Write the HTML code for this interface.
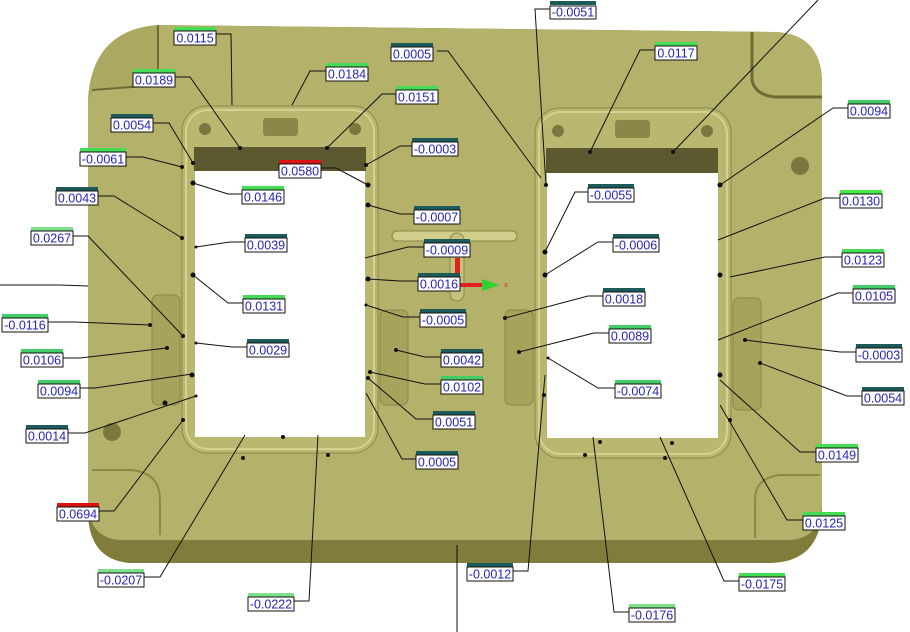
<!DOCTYPE html>
<html><head><meta charset="utf-8"><style>
html,body{margin:0;padding:0;background:#fff}
svg{display:block}
text{font-family:"Liberation Sans",sans-serif;font-size:12.5px;fill:#2424b8;text-anchor:middle}
</style></head><body>
<svg width="910" height="632" viewBox="0 0 910 632" xmlns="http://www.w3.org/2000/svg">
<!-- plate -->
<path d="M158,25 L775,32 Q820,34 822,80 L822,510 Q820,562 770,563 L130,563 Q90,560 88,515 L88,100 Q92,30 158,25 Z" fill="#7f7c3c"/>
<path d="M158,25 L775,32 Q820,34 822,80 L822,505 Q820,538 790,540 L120,540 Q90,538 88,505 L88,100 Q92,30 158,25 Z" fill="#b3b16a"/>
<path d="M88,100 Q92,30 158,25 L158,85 L95,88 Z" fill="#aaa861"/>
<path d="M158,25 L158,85 L92,90" fill="none" stroke="#6c6a35" stroke-width="2"/>
<path d="M752,32 L752,80 Q755,95 775,97 L822,97" fill="none" stroke="#6c6a35" stroke-width="3"/>
<path d="M92,470 L130,470 Q160,472 160,500 L160,535" fill="none" stroke="#8c8a4a" stroke-width="2"/>
<path d="M820,475 L780,475 Q755,478 755,500 L755,538" fill="none" stroke="#8c8a4a" stroke-width="2"/>
<!-- pockets -->
<rect x="152" y="295" width="28" height="110" rx="6" fill="#a5a35c" stroke="#8a8848"/>
<rect x="380" y="310" width="28" height="95" rx="6" fill="#a5a35c" stroke="#8a8848"/>
<rect x="505" y="310" width="28" height="95" rx="6" fill="#a5a35c" stroke="#8a8848"/>
<rect x="733" y="298" width="28" height="112" rx="6" fill="#a5a35c" stroke="#8a8848"/>
<circle cx="112" cy="432" r="9" fill="#7a7840"/>
<circle cx="800" cy="166" r="9" fill="#7a7840"/>
<!-- windows frames -->
<rect x="182" y="106" width="196" height="347" rx="25" fill="#bab870" stroke="#8a8848"/>
<rect x="535" y="108" width="196" height="350" rx="25" fill="#bab870" stroke="#8a8848"/>
<rect x="186" y="110" width="188" height="339" rx="22" fill="none" stroke="#d4d290" stroke-width="2"/>
<rect x="539" y="112" width="188" height="342" rx="22" fill="none" stroke="#d4d290" stroke-width="2"/>
<rect x="194" y="147" width="172" height="24" fill="#5c5830"/>
<rect x="546" y="148" width="172" height="25" fill="#5c5830"/>
<rect x="195" y="171" width="170" height="266" fill="#fff"/>
<rect x="547" y="173" width="171" height="265" fill="#fff"/>
<circle cx="205" cy="129" r="6" fill="#7a7840"/><circle cx="355" cy="129" r="6" fill="#7a7840"/>
<circle cx="558" cy="131" r="6" fill="#7a7840"/><circle cx="707" cy="131" r="6" fill="#7a7840"/>
<rect x="263" y="118" width="35" height="18" rx="3" fill="#8a8848"/>
<rect x="615" y="120" width="35" height="18" rx="3" fill="#8a8848"/>
<!-- T bar -->
<rect x="392" y="231" width="125" height="10" rx="5" fill="#d0ce8a" stroke="#8a8848"/>
<rect x="450" y="233" width="14" height="68" rx="7" fill="#c4c27a" stroke="#8a8848"/>
<rect x="455" y="258" width="5" height="27" fill="#e02020"/>
<rect x="460" y="283" width="25" height="4" fill="#e02020"/>
<polygon points="482,279 500,285 482,291" fill="#30d030"/>
<text x="506" y="287" style="font-size:7px;fill:#e03030">x</text>
<!-- dots -->
<g fill="#111">
<circle cx="240" cy="148" r="2"/><circle cx="327" cy="148" r="2"/><circle cx="193" cy="163" r="2"/><circle cx="182" cy="167" r="2"/><circle cx="193" cy="183" r="2.5"/><circle cx="182" cy="238" r="2"/><circle cx="196" cy="247" r="1.5"/><circle cx="193" cy="275" r="2.5"/><circle cx="150" cy="325" r="2"/><circle cx="167" cy="348" r="2"/><circle cx="183" cy="336" r="2"/><circle cx="196" cy="343" r="1.5"/><circle cx="192" cy="375" r="2.5"/><circle cx="165" cy="403" r="2.5"/><circle cx="196" cy="396" r="1.5"/><circle cx="183" cy="420" r="2"/>
<circle cx="368" cy="185" r="2.5"/><circle cx="368" cy="205" r="2.5"/><circle cx="366" cy="165" r="2"/><circle cx="368" cy="279" r="2.5"/><circle cx="396" cy="350" r="2"/><circle cx="370" cy="372" r="2"/><circle cx="368" cy="378" r="2"/><circle cx="366" cy="305" r="1.5"/>
<circle cx="243" cy="458" r="2"/><circle cx="328" cy="455" r="2"/><circle cx="283" cy="437" r="2"/>
<circle cx="590" cy="152" r="2"/><circle cx="673" cy="152" r="2"/><circle cx="546" cy="185" r="2"/><circle cx="545" cy="252" r="2.5"/><circle cx="545" cy="275" r="2.5"/><circle cx="505" cy="318" r="2"/><circle cx="519" cy="352" r="2"/><circle cx="548" cy="358" r="1.5"/><circle cx="544" cy="395" r="2"/>
<circle cx="720" cy="185" r="2.5"/><circle cx="720" cy="275" r="2.5"/><circle cx="745" cy="340" r="2"/><circle cx="760" cy="363" r="2"/><circle cx="720" cy="375" r="2.5"/><circle cx="730" cy="420" r="2"/>
<circle cx="600" cy="442" r="2"/><circle cx="672" cy="443" r="2"/><circle cx="585" cy="455" r="2"/><circle cx="665" cy="458" r="2"/>
</g>
<!-- leader lines -->
<g fill="none" stroke="#111" stroke-width="1">
<polyline points="216,34 231,34 232,105"/>
<polyline points="175,77 190,77 240,148"/>
<polyline points="326,71 310,71 292,105"/>
<polyline points="437,51 448,51 541,178"/>
<polyline points="396,94 382,94 327,148"/>
<polyline points="153,123 169,123 193,163"/>
<polyline points="126,157 143,157 182,167"/>
<polyline points="412,146 400,146 366,165"/>
<polyline points="320,168 336,168 368,185"/>
<polyline points="242,194 228,194 193,183"/>
<polyline points="414,214 400,214 368,205"/>
<polyline points="98,196 114,196 182,238"/>
<polyline points="245,242 230,242 196,247"/>
<polyline points="424,247 408,247 365,258"/>
<polyline points="73,236 88,236 183,336"/>
<polyline points="0,285 60,285 88,286"/>
<polyline points="418,281 400,281 368,279"/>
<polyline points="243,303 228,303 193,275"/>
<polyline points="420,317 403,317 366,305"/>
<polyline points="48,322 74,322 150,325"/>
<polyline points="247,347 232,347 196,343"/>
<polyline points="63,358 80,358 167,348"/>
<polyline points="441,357 425,357 396,350"/>
<polyline points="80,388 95,388 192,374"/>
<polyline points="441,384 425,384 370,372"/>
<polyline points="68,433 85,433 196,396"/>
<polyline points="433,419 416,419 368,378"/>
<polyline points="416,459 402,459 366,393"/>
<polyline points="99,511 114,511 183,420"/>
<polyline points="140,577 160,577 245,435"/>
<polyline points="290,601 309,601 318,435"/>
<polyline points="509,571 528,571 545,375"/>
<polyline points="550,9 535,9 546,185"/>
<polyline points="457,545 457,632"/>
<polyline points="629,612 614,612 593,437"/>
<polyline points="739,581 724,581 660,437"/>
<polyline points="803,520 787,520 720,405"/>
<polyline points="816,452 800,452 720,380"/>
<polyline points="862,396 847,396 760,363"/>
<polyline points="856,352 840,352 745,340"/>
<polyline points="853,293 838,293 718,340"/>
<polyline points="842,257 825,257 730,277"/>
<polyline points="840,198 825,198 718,240"/>
<polyline points="848,108 833,108 720,185"/>
<polyline points="818,0 673,152"/>
<polyline points="655,50 640,50 590,152"/>
<polyline points="588,192 575,192 545,252"/>
<polyline points="613,242 598,242 545,275"/>
<polyline points="603,296 588,296 505,318"/>
<polyline points="609,333 594,333 519,352"/>
<polyline points="615,388 598,388 548,358"/>
</g>
<!-- labels -->
<g>
<g transform="translate(174,27)"><rect width="42" height="4" fill="#44dd55"/><rect y="4" width="42" height="14" fill="#fff" stroke="#111"/><text x="21" y="15.5">0.0115</text></g>
<g transform="translate(133,69)"><rect width="42" height="4" fill="#44dd55"/><rect y="4" width="42" height="14" fill="#fff" stroke="#111"/><text x="21" y="15.5">0.0189</text></g>
<g transform="translate(326,63)"><rect width="42" height="4" fill="#44dd55"/><rect y="4" width="42" height="14" fill="#fff" stroke="#111"/><text x="21" y="15.5">0.0184</text></g>
<g transform="translate(391,43)"><rect width="42" height="4" fill="#1d5b5b"/><rect y="4" width="42" height="14" fill="#fff" stroke="#111"/><text x="21" y="15.5">0.0005</text></g>
<g transform="translate(396,86)"><rect width="42" height="4" fill="#44dd55"/><rect y="4" width="42" height="14" fill="#fff" stroke="#111"/><text x="21" y="15.5">0.0151</text></g>
<g transform="translate(111,114)"><rect width="42" height="4" fill="#1d5b5b"/><rect y="4" width="42" height="14" fill="#fff" stroke="#111"/><text x="21" y="15.5">0.0054</text></g>
<g transform="translate(80,148)"><rect width="46" height="4" fill="#44dd55"/><rect y="4" width="46" height="14" fill="#fff" stroke="#111"/><text x="23" y="15.5">-0.0061</text></g>
<g transform="translate(412,138)"><rect width="46" height="4" fill="#1d5b5b"/><rect y="4" width="46" height="14" fill="#fff" stroke="#111"/><text x="23" y="15.5">-0.0003</text></g>
<g transform="translate(279,160)"><rect width="42" height="4" fill="#dd1111"/><rect y="4" width="42" height="14" fill="#fff" stroke="#111"/><text x="21" y="15.5">0.0580</text></g>
<g transform="translate(242,186)"><rect width="42" height="4" fill="#44dd55"/><rect y="4" width="42" height="14" fill="#fff" stroke="#111"/><text x="21" y="15.5">0.0146</text></g>
<g transform="translate(414,206)"><rect width="46" height="4" fill="#1d5b5b"/><rect y="4" width="46" height="14" fill="#fff" stroke="#111"/><text x="23" y="15.5">-0.0007</text></g>
<g transform="translate(56,187)"><rect width="42" height="4" fill="#1d5b5b"/><rect y="4" width="42" height="14" fill="#fff" stroke="#111"/><text x="21" y="15.5">0.0043</text></g>
<g transform="translate(245,234)"><rect width="42" height="4" fill="#1d5b5b"/><rect y="4" width="42" height="14" fill="#fff" stroke="#111"/><text x="21" y="15.5">0.0039</text></g>
<g transform="translate(424,239)"><rect width="46" height="4" fill="#1d5b5b"/><rect y="4" width="46" height="14" fill="#fff" stroke="#111"/><text x="23" y="15.5">-0.0009</text></g>
<g transform="translate(31,227)"><rect width="42" height="4" fill="#7ee08a"/><rect y="4" width="42" height="14" fill="#fff" stroke="#111"/><text x="21" y="15.5">0.0267</text></g>
<g transform="translate(418,273)"><rect width="42" height="4" fill="#1d5b5b"/><rect y="4" width="42" height="14" fill="#fff" stroke="#111"/><text x="21" y="15.5">0.0016</text></g>
<g transform="translate(243,295)"><rect width="42" height="4" fill="#44dd55"/><rect y="4" width="42" height="14" fill="#fff" stroke="#111"/><text x="21" y="15.5">0.0131</text></g>
<g transform="translate(420,309)"><rect width="46" height="4" fill="#1d5b5b"/><rect y="4" width="46" height="14" fill="#fff" stroke="#111"/><text x="23" y="15.5">-0.0005</text></g>
<g transform="translate(2,314)"><rect width="46" height="4" fill="#44cc66"/><rect y="4" width="46" height="14" fill="#fff" stroke="#111"/><text x="23" y="15.5">-0.0116</text></g>
<g transform="translate(247,339)"><rect width="42" height="4" fill="#1d5b5b"/><rect y="4" width="42" height="14" fill="#fff" stroke="#111"/><text x="21" y="15.5">0.0029</text></g>
<g transform="translate(21,349)"><rect width="42" height="4" fill="#44cc66"/><rect y="4" width="42" height="14" fill="#fff" stroke="#111"/><text x="21" y="15.5">0.0106</text></g>
<g transform="translate(441,349)"><rect width="42" height="4" fill="#1d5b5b"/><rect y="4" width="42" height="14" fill="#fff" stroke="#111"/><text x="21" y="15.5">0.0042</text></g>
<g transform="translate(38,380)"><rect width="42" height="4" fill="#44cc66"/><rect y="4" width="42" height="14" fill="#fff" stroke="#111"/><text x="21" y="15.5">0.0094</text></g>
<g transform="translate(441,376)"><rect width="42" height="4" fill="#44cc66"/><rect y="4" width="42" height="14" fill="#fff" stroke="#111"/><text x="21" y="15.5">0.0102</text></g>
<g transform="translate(26,425)"><rect width="42" height="4" fill="#1d5b5b"/><rect y="4" width="42" height="14" fill="#fff" stroke="#111"/><text x="21" y="15.5">0.0014</text></g>
<g transform="translate(433,411)"><rect width="42" height="4" fill="#1d5b5b"/><rect y="4" width="42" height="14" fill="#fff" stroke="#111"/><text x="21" y="15.5">0.0051</text></g>
<g transform="translate(416,451)"><rect width="42" height="4" fill="#1d5b5b"/><rect y="4" width="42" height="14" fill="#fff" stroke="#111"/><text x="21" y="15.5">0.0005</text></g>
<g transform="translate(57,503)"><rect width="42" height="4" fill="#dd1111"/><rect y="4" width="42" height="14" fill="#fff" stroke="#111"/><text x="21" y="15.5">0.0694</text></g>
<g transform="translate(98,569)"><rect width="46" height="4" fill="#7ee08a"/><rect y="4" width="46" height="14" fill="#fff" stroke="#111"/><text x="23" y="15.5">-0.0207</text></g>
<g transform="translate(248,593)"><rect width="46" height="4" fill="#7ee08a"/><rect y="4" width="46" height="14" fill="#fff" stroke="#111"/><text x="23" y="15.5">-0.0222</text></g>
<g transform="translate(467,563)"><rect width="46" height="4" fill="#1d5b5b"/><rect y="4" width="46" height="14" fill="#fff" stroke="#111"/><text x="23" y="15.5">-0.0012</text></g>
<g transform="translate(629,604)"><rect width="46" height="4" fill="#7ee08a"/><rect y="4" width="46" height="14" fill="#fff" stroke="#111"/><text x="23" y="15.5">-0.0176</text></g>
<g transform="translate(739,573)"><rect width="46" height="4" fill="#44dd55"/><rect y="4" width="46" height="14" fill="#fff" stroke="#111"/><text x="23" y="15.5">-0.0175</text></g>
<g transform="translate(803,512)"><rect width="42" height="4" fill="#44dd55"/><rect y="4" width="42" height="14" fill="#fff" stroke="#111"/><text x="21" y="15.5">0.0125</text></g>
<g transform="translate(816,444)"><rect width="42" height="4" fill="#44dd55"/><rect y="4" width="42" height="14" fill="#fff" stroke="#111"/><text x="21" y="15.5">0.0149</text></g>
<g transform="translate(862,387)"><rect width="42" height="4" fill="#1d5b5b"/><rect y="4" width="42" height="14" fill="#fff" stroke="#111"/><text x="21" y="15.5">0.0054</text></g>
<g transform="translate(856,344)"><rect width="46" height="4" fill="#1d5b5b"/><rect y="4" width="46" height="14" fill="#fff" stroke="#111"/><text x="23" y="15.5">-0.0003</text></g>
<g transform="translate(853,285)"><rect width="42" height="4" fill="#44cc66"/><rect y="4" width="42" height="14" fill="#fff" stroke="#111"/><text x="21" y="15.5">0.0105</text></g>
<g transform="translate(842,249)"><rect width="42" height="4" fill="#44dd55"/><rect y="4" width="42" height="14" fill="#fff" stroke="#111"/><text x="21" y="15.5">0.0123</text></g>
<g transform="translate(840,190)"><rect width="42" height="4" fill="#44ee44"/><rect y="4" width="42" height="14" fill="#fff" stroke="#111"/><text x="21" y="15.5">0.0130</text></g>
<g transform="translate(848,100)"><rect width="42" height="4" fill="#44cc66"/><rect y="4" width="42" height="14" fill="#fff" stroke="#111"/><text x="21" y="15.5">0.0094</text></g>
<g transform="translate(655,42)"><rect width="42" height="4" fill="#44dd55"/><rect y="4" width="42" height="14" fill="#fff" stroke="#111"/><text x="21" y="15.5">0.0117</text></g>
<g transform="translate(550,1)"><rect width="46" height="4" fill="#1d5b5b"/><rect y="5" width="46" height="13" fill="#fff" stroke="#111"/><text x="23" y="15.5">-0.0051</text></g>
<g transform="translate(588,184)"><rect width="46" height="4" fill="#1d5b5b"/><rect y="4" width="46" height="14" fill="#fff" stroke="#111"/><text x="23" y="15.5">-0.0055</text></g>
<g transform="translate(613,234)"><rect width="46" height="4" fill="#1d5b5b"/><rect y="4" width="46" height="14" fill="#fff" stroke="#111"/><text x="23" y="15.5">-0.0006</text></g>
<g transform="translate(603,288)"><rect width="42" height="4" fill="#1d5b5b"/><rect y="4" width="42" height="14" fill="#fff" stroke="#111"/><text x="21" y="15.5">0.0018</text></g>
<g transform="translate(609,325)"><rect width="42" height="4" fill="#44cc66"/><rect y="4" width="42" height="14" fill="#fff" stroke="#111"/><text x="21" y="15.5">0.0089</text></g>
<g transform="translate(615,380)"><rect width="46" height="4" fill="#44cc66"/><rect y="4" width="46" height="14" fill="#fff" stroke="#111"/><text x="23" y="15.5">-0.0074</text></g>
</g>
</svg>
</body></html>
